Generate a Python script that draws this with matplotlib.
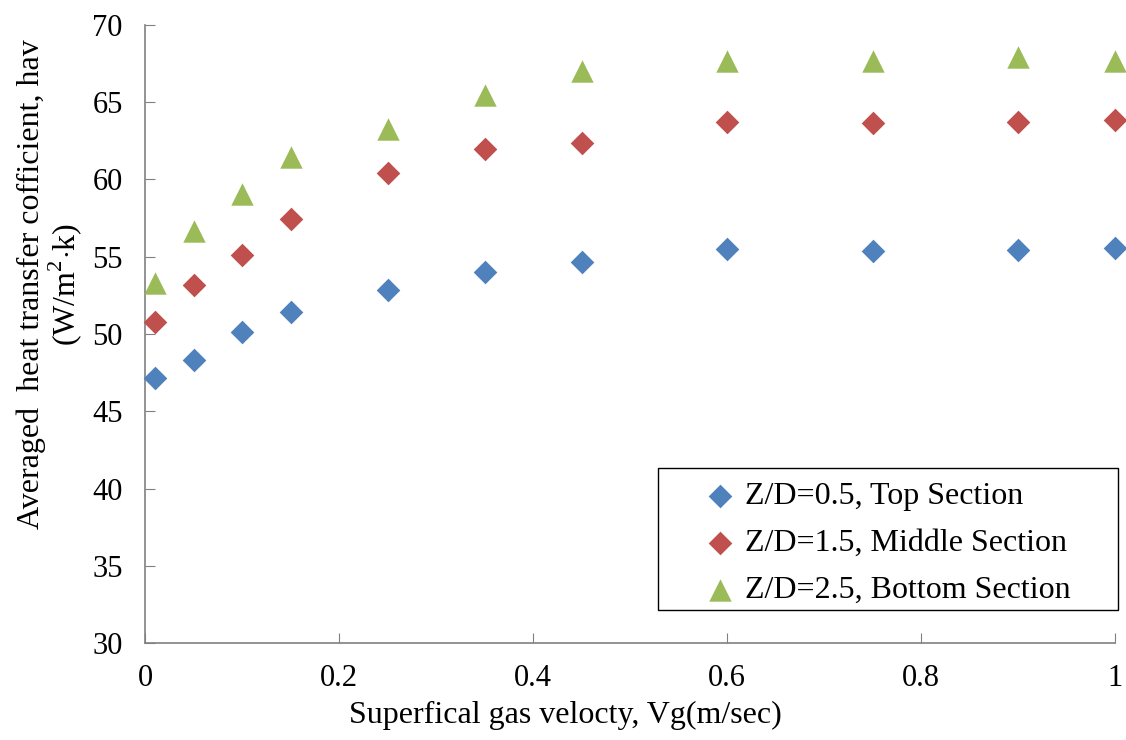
import matplotlib
matplotlib.use("Agg")
import matplotlib.pyplot as plt
from matplotlib.patches import Rectangle

vg = [0.01, 0.05, 0.1, 0.15, 0.25, 0.35, 0.45, 0.6, 0.75, 0.9, 1.0]
top = [47.15, 48.3, 50.1, 51.4, 52.85, 54.0, 54.65, 55.5, 55.35, 55.45, 55.55]
middle = [50.75, 53.2, 55.1, 57.45, 60.45, 62.0, 62.35, 63.75, 63.65, 63.75, 63.85]
bottom = [53.3, 56.65, 59.05, 61.45, 63.25, 65.5, 67.05, 67.65, 67.65, 67.9, 67.65]

labels = ["Z/D=0.5, Top Section", "Z/D=1.5, Middle Section", "Z/D=2.5, Bottom Section"]
xticks = [0, 0.2, 0.4, 0.6, 0.8, 1]
yticks = [30, 35, 40, 45, 50, 55, 60, 65, 70]

plt.rcParams['font.family'] = ['Liberation Serif', 'DejaVu Serif']
plt.rcParams['mathtext.fontset'] = 'custom'
plt.rcParams['mathtext.rm'] = 'Liberation Serif'

fig = plt.figure(figsize=(11.26, 7.4), dpi=100)
ax = fig.add_axes([145/1126, 1 - 643/740, (1115-145)/1126, (643-25)/740])

ax.scatter(vg, top, marker='D', s=145, color='#4F81BD', label=labels[0], zorder=3, linewidths=0, clip_on=False)
ax.scatter(vg, middle, marker='D', s=145, color='#C0504D', label=labels[1], zorder=3, linewidths=0, clip_on=False)
ax.scatter(vg, bottom, marker='^', s=260, color='#9BBB59', label=labels[2], zorder=3, linewidths=0, clip_on=False)

ax.set_xlim(0, 1)
ax.set_ylim(30, 70)
ax.set_xticks(xticks)
ax.set_xticklabels([str(t) for t in xticks])
ax.set_yticks(yticks)
for s in ['top', 'right']:
    ax.spines[s].set_visible(False)
for s in ['left', 'bottom']:
    ax.spines[s].set_color('#808080')
    ax.spines[s].set_linewidth(1.2)
ax.tick_params(axis='both', direction='in', length=7, color='#808080', labelsize=22)
ax.tick_params(axis='x', pad=15)
ax.tick_params(axis='y', pad=16)

ax.set_xlabel("Superfical gas velocty, Vg(m/sec)", fontsize=23, va='top')
ax.xaxis.set_label_coords(0.433, -0.093)
ax.set_ylabel("Averaged  heat transfer cofficient, hav\n(W/m$^\\mathregular{2}$$\\cdot$k)", fontsize=23,
              linespacing=1.0, va='bottom')
ax.yaxis.set_label_coords(-0.063, 0.58)

ax.add_patch(Rectangle(((658-145)/970, (643-610)/618), (1118-658)/970, (610-468)/618,
                       transform=ax.transAxes, fill=False, edgecolor='black', linewidth=1.0, clip_on=False))
leg = ax.legend(loc='upper left', bbox_to_anchor=((704-145)/970, (643-482)/618), fontsize=23, frameon=False,
                handletextpad=0.28, borderpad=0, labelspacing=0.55, handlelength=1.0, borderaxespad=0)

fig.savefig("out.png", dpi=100)
